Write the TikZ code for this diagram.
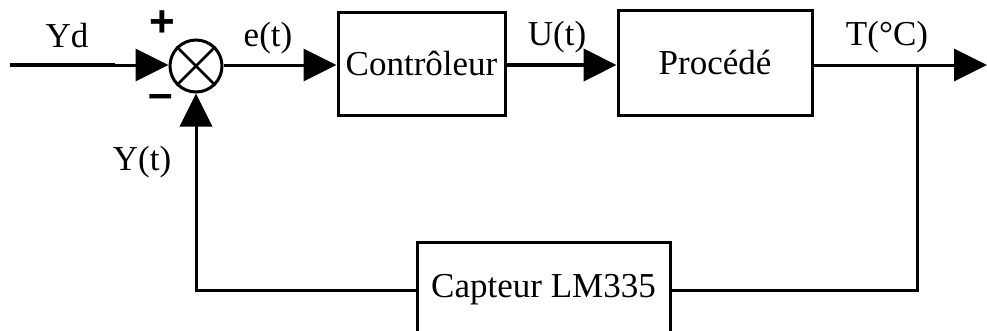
\documentclass[tikz,border=0pt]{standalone}
\usepackage{fontspec}
\setmainfont{Liberation Serif}
\newfontfamily\signfont{Liberation Sans}
\usetikzlibrary{arrows.meta}

\tikzset{
  wire/.style={line width=3pt},
  heavywire/.style={line width=4.5pt},
  flow/.style={wire,-{Triangle[length=33pt,width=32pt]}},
  block/.style={draw,line width=3pt,inner sep=0pt,font=\fontsize{35}{40}\selectfont},
  lbl/.style={inner sep=0pt,font=\fontsize{35}{40}\selectfont},
  sign/.style={inner sep=0pt,font=\signfont\bfseries\fontsize{44}{48}\selectfont},
}

\begin{document}
\begin{tikzpicture}[x=1pt,y=-1pt]
\useasboundingbox (0,0) rectangle (987,330);
\begin{scope}
\clip (0,0) rectangle (987,330);

% blocks
\node[block,minimum width=167pt,minimum height=103pt] (ctrl) at (421.5,63.5) {Contrôleur};
\node[block,minimum width=194pt,minimum height=105pt] (proc) at (715,62.5) {Procédé};
\node[block,minimum width=253pt,minimum height=96pt] (capt) at (543.5,290) {Capteur LM335};

% summing junction
\node[draw,circle,line width=3pt,minimum size=52pt,inner sep=0pt] (sum) at (196,66) {};
\draw[line width=2.6pt] (sum.45) -- (sum.225) (sum.135) -- (sum.315);

% helper points
\coordinate (in) at (10,65);
\coordinate (inmid) at (115,65);
\coordinate (out) at (987,65);
\coordinate (branch) at (917,65);
\coordinate (fbdown) at (917,290);

% forward path
\draw[heavywire] (in) -- (inmid);
\draw[flow] (inmid) -- (sum.west |- inmid);
\draw[flow] (sum.east |- inmid) -- (ctrl.west |- inmid);
\draw[flow,line width=4.5pt] (ctrl.east |- inmid) -- (proc.west |- inmid);
\draw[flow] (proc.east |- inmid) -- (out);

% feedback path
\draw[wire] (branch) -- (fbdown) -- (capt.east);
\draw[flow] (capt.west) -| (sum.south);

% labels
\node[lbl] (lyd) at (67,36) {Yd};
\node[lbl] (le) at (268,38) {e(t)};
\node[lbl] (lu) at (557,37) {U(t)};
\node[lbl] (lt) at (887,37) {T(°C)};
\node[lbl] (ly) at (142,162) {Y(t)};
\node[sign] (lplus) at (162,24) {+};
\node[sign] (lminus) at (161,102) {–};
\end{scope}
\end{tikzpicture}
\end{document}
